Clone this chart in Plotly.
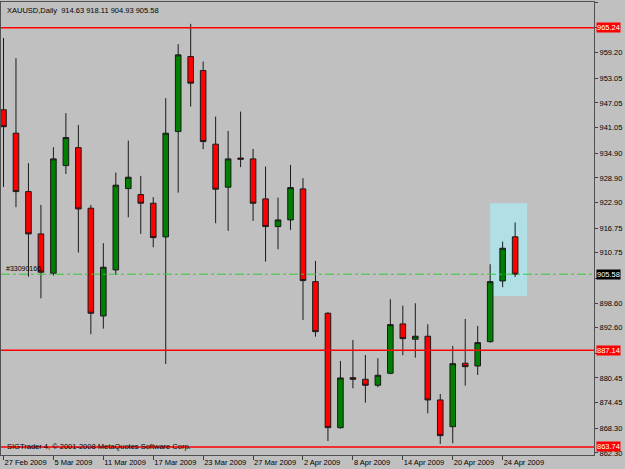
import plotly.graph_objects as go

dates = [
    "27 Feb 2009",
    "2 Mar 2009", "3 Mar 2009", "4 Mar 2009", "5 Mar 2009", "6 Mar 2009",
    "9 Mar 2009", "10 Mar 2009", "11 Mar 2009", "12 Mar 2009", "13 Mar 2009",
    "16 Mar 2009", "17 Mar 2009", "18 Mar 2009", "19 Mar 2009", "20 Mar 2009",
    "23 Mar 2009", "24 Mar 2009", "25 Mar 2009", "26 Mar 2009", "27 Mar 2009",
    "30 Mar 2009", "31 Mar 2009", "1 Apr 2009", "2 Apr 2009", "3 Apr 2009",
    "6 Apr 2009", "7 Apr 2009", "8 Apr 2009", "9 Apr 2009", "10 Apr 2009",
    "13 Apr 2009", "14 Apr 2009", "15 Apr 2009", "16 Apr 2009", "17 Apr 2009",
    "20 Apr 2009", "21 Apr 2009", "22 Apr 2009", "23 Apr 2009", "24 Apr 2009",
    "27 Apr 2009",
]
opens = [945.4, 939.73, 925.59, 915.34, 905.82, 931.88, 936.24, 921.56, 895.47, 906.62,
         926.31, 924.86, 922.77, 914.61, 940.12, 958.29, 954.90, 937.07, 926.65, 933.70,
         933.51, 923.82, 917.11, 918.73, 926.24, 903.78, 896.13, 868.42, 880.53, 880.14,
         878.69, 881.59, 893.54, 889.83, 890.56, 875.13, 868.66, 884.02, 883.36, 889.25,
         903.95, 914.63]
highs = [962.8, 957.90, 932.46, 922.36, 936.34, 944.58, 941.74, 922.36, 913.09, 930.19,
         937.94, 929.39, 924.23, 948.21, 961.29, 966.21, 957.08, 943.75, 940.29, 944.96,
         935.93, 931.64, 924.13, 932.05, 928.83, 908.80, 896.37, 884.57, 889.66, 886.03,
         885.23, 899.52, 897.97, 898.55, 893.46, 876.58, 888.21, 894.75, 893.05, 908.00,
         913.47, 918.11]
lows = [926.7, 921.81, 904.99, 899.76, 905.24, 929.87, 910.81, 891.04, 892.40, 905.41,
        919.38, 915.34, 912.12, 883.85, 925.34, 946.18, 935.86, 917.93, 916.07, 931.50,
        918.49, 908.63, 911.63, 916.31, 894.51, 890.46, 865.19, 868.18, 877.96, 874.47,
        878.20, 881.35, 885.95, 885.37, 871.91, 864.47, 864.64, 878.59, 881.18, 889.01,
        902.43, 904.93]
closes = [941.3, 925.59, 915.34, 906.06, 933.51, 938.67, 921.39, 896.13, 907.27, 927.14,
          929.07, 922.77, 914.44, 939.73, 958.70, 951.84, 937.70, 926.17, 933.51, 933.44,
          922.77, 917.11, 918.73, 926.55, 904.03, 891.67, 868.42, 880.46, 880.14, 878.69,
          881.11, 893.37, 889.98, 890.56, 875.13, 866.48, 883.92, 883.19, 889.01, 903.78,
          911.87, 905.58]

tick_labels = ["27 Feb 2009", "5 Mar 2009", "11 Mar 2009", "17 Mar 2009", "23 Mar 2009",
               "27 Mar 2009", "2 Apr 2009", "8 Apr 2009", "14 Apr 2009", "20 Apr 2009",
               "24 Apr 2009"]
price_ticks = [971.35, 965.25, 959.20, 953.05, 947.05, 941.05, 934.90, 928.90, 922.90,
               916.75, 910.75, 904.60, 898.60, 892.60, 886.45, 880.45, 874.45, 868.30, 862.30]
hidden_ticks = [965.25, 904.60, 886.45]
red_levels = [965.24, 887.14, 863.74]
bid_level = 905.58
box_range = [39, 41.96, 900.32, 922.77]
symbol = "XAUUSD,Daily"
line_name = "#33090166"
copyright_text = "SIGTrader 4, © 2001-2008 MetaQuotes Software Corp."

FONT = "Liberation Sans"
idx = list(range(len(dates)))

fig = go.Figure()

fig.add_trace(go.Scatter(
    x=[0.2], y=[bid_level + 1.1], mode="text", text=[line_name],
    textposition="middle right", textfont=dict(family=FONT, size=7, color="#000000"),
    hoverinfo="skip", showlegend=False,
))

fig.add_trace(go.Candlestick(
    x=idx, open=opens, high=highs, low=lows, close=closes,
    increasing=dict(fillcolor="#008000", line=dict(color="#1a1a1a", width=1)),
    decreasing=dict(fillcolor="#ff0000", line=dict(color="#1a1a1a", width=1)),
    whiskerwidth=0, showlegend=False,
))

shapes = [dict(type="rect", xref="x", yref="y", x0=box_range[0], x1=box_range[1],
               y0=box_range[2], y1=box_range[3], fillcolor="#b0e0e6",
               line=dict(width=0), layer="below")]
for lv in red_levels:
    shapes.append(dict(type="line", xref="paper", yref="y", x0=0, x1=1, y0=lv, y1=lv,
                       line=dict(color="#ff0000", width=1.5)))
shapes.append(dict(type="line", xref="paper", yref="y", x0=0, x1=1, y0=bid_level, y1=bid_level,
                   line=dict(color="#33cc33", width=1, dash="dashdot")))

annotations = [
    dict(xref="paper", yref="paper", x=0.006, y=0.995, xanchor="left", yanchor="top",
         text=f"{symbol}  {opens[-1]:.2f} {highs[-1]:.2f} {lows[-1]:.2f} {closes[-1]:.2f}",
         showarrow=False, font=dict(family=FONT, size=7.5, color="#000000")),
    dict(xref="paper", yref="paper", x=0.006, y=0.0, xanchor="left", yanchor="bottom",
         yshift=2, text=copyright_text, showarrow=False,
         font=dict(family=FONT, size=7.5, color="#000000")),
]
for lv in red_levels:
    annotations.append(dict(xref="paper", yref="y", x=1, y=lv, xanchor="left", yanchor="middle",
                            xshift=2, text=f"{lv:.2f}", showarrow=False, bgcolor="#ff0000",
                            borderpad=0, font=dict(family=FONT, size=7.5, color="#ffffff")))
annotations.append(dict(xref="paper", yref="y", x=1, y=bid_level, xanchor="left", yanchor="middle",
                        xshift=2, text=f"{bid_level:.2f}", showarrow=False, bgcolor="#000000",
                        borderpad=0, font=dict(family=FONT, size=7.5, color="#ffffff")))

fig.update_layout(
    width=625, height=469,
    margin=dict(l=1, r=31, t=2, b=14, autoexpand=False),
    paper_bgcolor="#c0c0c0", plot_bgcolor="#c0c0c0",
    boxgap=0.36,
    shapes=shapes, annotations=annotations,
    showlegend=False,
    xaxis=dict(
        range=[-0.2, 47.32], rangeslider=dict(visible=False),
        tickmode="array", tickvals=[dates.index(t) for t in tick_labels], ticktext=tick_labels,
        tickangle=0, automargin=False,
        ticks="outside", ticklen=4, tickcolor="#404040",
        ticklabelposition="outside right",
        showgrid=False, zeroline=False,
        showline=True, linecolor="#505050", linewidth=1, mirror=True,
        tickfont=dict(family=FONT, size=7.5, color="#000000"),
    ),
    yaxis=dict(
        range=[861.8, 971.5], side="right", automargin=False,
        tickmode="array", tickvals=price_ticks,
        ticktext=["" if v in hidden_ticks else f"{v:.2f}" for v in price_ticks],
        ticks="outside", ticklen=3, tickcolor="#404040",
        showgrid=False, zeroline=False,
        showline=True, linecolor="#505050", linewidth=1, mirror=True,
        tickfont=dict(family=FONT, size=7.5, color="#000000"),
    ),
)

fig.write_html("out.html")
